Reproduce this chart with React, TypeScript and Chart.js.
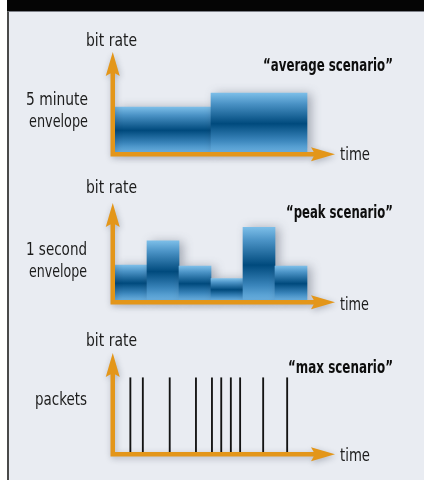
import React, { useEffect, useRef } from 'react';
import { Chart, registerables } from 'chart.js';

Chart.register(...registerables);

// ---------- data ----------
const averageCategories = ['first 5 minutes', 'second 5 minutes'];
const averageValues = [45, 59];

const peakCategories = ['1 s', '2 s', '3 s', '4 s', '5 s', '6 s'];
const peakValues = [36, 61, 35, 22, 75, 35];

const packetTimes = [4.8, 8.7, 17.1, 25.3, 30.3, 33.2, 36.2, 39.1, 46.3, 53.8];
const packetSize = 75;

// ---------- styles ----------
const ORANGE = '#e3961a';
const FONT = '"DejaVu Sans Condensed", "DejaVu Sans", sans-serif';

function barGradient(c: any) {
  const chart = c.chart;
  if (!chart.chartArea || c.type !== 'data') return '#2a6fa3';
  const y = chart.scales.y;
  const top = y.getPixelForValue(c.raw);
  const bottom = y.getPixelForValue(0);
  const g = chart.ctx.createLinearGradient(0, top, 0, bottom);
  g.addColorStop(0, '#7cbee8');
  g.addColorStop(0.18, '#4b93c6');
  g.addColorStop(0.52, '#004a7d');
  g.addColorStop(0.8, '#3a85bb');
  g.addColorStop(1, '#6cb3e3');
  return g;
}

function drawAxes(chart: any) {
  const { ctx, chartArea } = chart;
  const { left, right, top, bottom } = chartArea;
  const lw = 4.5;
  const vx = left - lw / 2;
  const hy = bottom + lw / 2;
  const headLen = 24;
  const headHalf = 7;
  const notch = 4;
  const tipX = right + 28;
  ctx.save();
  ctx.shadowColor = 'rgba(30,40,60,0.28)';
  ctx.shadowBlur = 6;
  ctx.shadowOffsetX = 1;
  ctx.shadowOffsetY = 2;
  ctx.fillStyle = ORANGE;
  ctx.beginPath();
  ctx.rect(left - lw, top + headLen - notch - 1, lw, bottom + lw - (top + headLen - notch - 1));
  ctx.rect(left - lw, bottom, tipX - headLen + notch + 1 - (left - lw), lw);
  ctx.moveTo(vx, top);
  ctx.lineTo(vx + headHalf, top + headLen);
  ctx.lineTo(vx, top + headLen - notch);
  ctx.lineTo(vx - headHalf, top + headLen);
  ctx.closePath();
  ctx.moveTo(tipX, hy);
  ctx.lineTo(tipX - headLen, hy + headHalf);
  ctx.lineTo(tipX - headLen + notch, hy);
  ctx.lineTo(tipX - headLen, hy - headHalf);
  ctx.closePath();
  ctx.fill();
  ctx.restore();
}

const shadowAndAxes = {
  id: 'shadowAndAxes',
  beforeDatasetsDraw(chart: any, _a: any, opts: any) {
    const c = chart.ctx;
    c.save();
    if (opts && opts.shadow) {
      c.shadowColor = 'rgba(40,50,70,0.38)';
      c.shadowBlur = 10;
      c.shadowOffsetX = 4;
      c.shadowOffsetY = 1;
    }
  },
  afterDatasetsDraw(chart: any) {
    chart.ctx.restore();
    drawAxes(chart);
  },
};

function padding(top: number, bottom: number) {
  return { left: 115, right: 117, top, bottom };
}

function baseOptions(pad: any, xScale: any, shadow: boolean): any {
  return {
    animation: false,
    responsive: false,
    maintainAspectRatio: false,
    events: [],
    layout: { padding: pad },
    scales: {
      x: { display: false, ...xScale },
      y: { display: false, min: 0, max: 100 },
    },
    plugins: {
      legend: { display: false },
      tooltip: { enabled: false },
      shadowAndAxes: { shadow },
    },
  };
}

function useChart(ref: React.RefObject<HTMLCanvasElement>, make: () => any) {
  useEffect(() => {
    if (!ref.current) return;
    const chart = new Chart(ref.current, make());
    return () => chart.destroy();
  }, []);
}

// ---------- text ----------
const measureCtx = typeof document !== 'undefined' ? document.createElement('canvas').getContext('2d') : null;

function Label(props: {
  text: string; left: number; width: number; baseline: number; size: number; bold?: boolean; color?: string;
}) {
  const weight = props.bold ? 'bold' : 'normal';
  let natural = props.width;
  if (measureCtx) {
    measureCtx.font = `${weight} ${props.size}px ${FONT}`;
    natural = measureCtx.measureText(props.text).width || props.width;
  }
  const scale = props.width / natural;
  return (
    <div
      style={{
        position: 'absolute',
        left: props.left,
        top: props.baseline - 0.846 * props.size,
        fontFamily: FONT,
        fontSize: props.size,
        fontWeight: weight as any,
        lineHeight: `${props.size}px`,
        whiteSpace: 'nowrap',
        color: props.color || '#1c1c1c',
        transform: `scaleX(${scale})`,
        transformOrigin: 'left top',
      }}
    >
      {props.text}
    </div>
  );
}

export default function App() {
  const r1 = useRef<HTMLCanvasElement>(null);
  const r2 = useRef<HTMLCanvasElement>(null);
  const r3 = useRef<HTMLCanvasElement>(null);

  useChart(r1, () => ({
    type: 'bar',
    data: {
      labels: averageCategories,
      datasets: [{
        data: averageValues, backgroundColor: barGradient, borderWidth: 0,
        barPercentage: 1, categoryPercentage: 1, clip: false,
      }],
    },
    options: baseOptions(padding(22, 18), {}, true),
    plugins: [shadowAndAxes],
  }));

  useChart(r2, () => ({
    type: 'bar',
    data: {
      labels: peakCategories,
      datasets: [{
        data: peakValues, backgroundColor: barGradient, borderWidth: 0,
        barPercentage: 1, categoryPercentage: 1, clip: false,
      }],
    },
    options: baseOptions(padding(23, 20), {}, true),
    plugins: [shadowAndAxes],
  }));

  useChart(r3, () => ({
    type: 'bar',
    data: {
      datasets: [{
        data: packetTimes.map((t) => ({ x: t, y: packetSize })),
        backgroundColor: '#141414', borderWidth: 0, barThickness: 1.2, clip: false,
      }],
    },
    options: baseOptions(padding(23, 18), { type: 'linear', min: 0, max: 60, offset: false }, false),
    plugins: [shadowAndAxes],
  }));

  const canvasStyle = (top: number): React.CSSProperties => ({
    position: 'absolute', left: 0, top, width: 424, height: 140,
  });

  return (
    <div style={{ position: 'absolute', left: 0, top: 0, width: 424, height: 480, background: '#ffffff', overflow: 'hidden' }}>
      <div style={{ position: 'absolute', left: 7, top: 0, width: 417, height: 11, background: '#050505' }} />
      <div style={{
        position: 'absolute', left: 7, top: 11, width: 417, height: 469, boxSizing: 'border-box',
        background: '#e9ecf2', borderLeft: '2px solid #4a4a4a', borderTop: '1px solid #7d8088',
      }} />
      <canvas ref={r1} width={424} height={140} style={canvasStyle(30)} />
      <canvas ref={r2} width={424} height={140} style={canvasStyle(180)} />
      <canvas ref={r3} width={424} height={140} style={canvasStyle(330)} />

      <Label text="bit rate" left={86} width={51} baseline={46.5} size={18} />
      <Label text="5 minute" left={26} width={62} baseline={105} size={18} />
      <Label text="envelope" left={29} width={59} baseline={127} size={18} />
      <Label text="“average scenario”" left={263} width={130} baseline={71} size={18} bold color="#0d0d0d" />
      <Label text="time" left={340} width={30} baseline={160} size={18} />

      <Label text="bit rate" left={86} width={51} baseline={193} size={18} />
      <Label text="1 second" left={26} width={61} baseline={255} size={18} />
      <Label text="envelope" left={29} width={58} baseline={277} size={18} />
      <Label text="“peak scenario”" left={286} width={107} baseline={218} size={18} bold color="#0d0d0d" />
      <Label text="time" left={340} width={29} baseline={310} size={18} />

      <Label text="bit rate" left={86} width={51} baseline={346} size={18} />
      <Label text="packets" left={35} width={52} baseline={405} size={18} />
      <Label text="“max scenario”" left={288} width={105} baseline={373} size={18} bold color="#0d0d0d" />
      <Label text="time" left={340} width={30} baseline={461} size={18} />
    </div>
  );
}
